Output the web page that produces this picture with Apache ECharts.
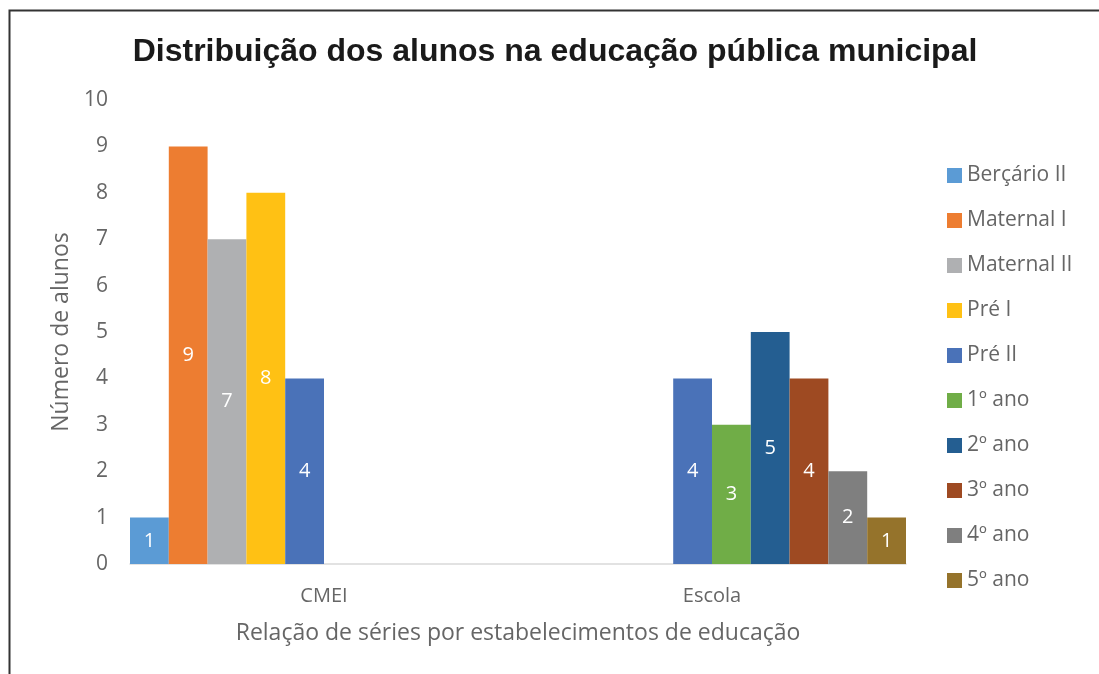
<!DOCTYPE html>
<html>
<head>
<meta charset="utf-8">
<script src="https://cdn.jsdelivr.net/npm/echarts@6/dist/echarts.min.js"></script>
<style>
html,body{margin:0;padding:0;background:#fff;}
#c{width:1099px;height:674px;}
</style>
</head>
<body>
<div id="c"></div>
<script>
const categories = ['CMEI', 'Escola'];
const seriesNames = ['Berçário II', 'Maternal I', 'Maternal II', 'Pré I', 'Pré II', '1º ano', '2º ano', '3º ano', '4º ano', '5º ano'];
const cmeiValues = [1, 9, 7, 8, 4, null, null, null, null, null];
const escolaValues = [null, null, null, null, 4, 3, 5, 4, 2, 1];
const colors = ['#5B9BD5', '#ED7D31', '#AFB0B2', '#FFC114', '#4A72B8', '#70AD47', '#245E91', '#9E4A22', '#7F7F7F', '#95732B'];
const yTicks = [0, 1, 2, 3, 4, 5, 6, 7, 8, 9, 10];

const FONT = '"Open Sans", sans-serif';
const chart = echarts.init(document.getElementById('c'), null, {renderer: 'canvas'});

const series = seriesNames.map((name, i) => ({
  name: name,
  type: 'bar',
  data: [cmeiValues[i], escolaValues[i]],
  barGap: '0%',
  barCategoryGap: '0%',
  itemStyle: {color: colors[i]},
  label: {
    show: true,
    position: 'inside',
    color: '#ffffff',
    fontFamily: FONT,
    fontSize: 20
  }
}));

chart.setOption({
  animation: false,
  backgroundColor: '#ffffff',
  title: {
    text: 'Distribuição dos alunos na educação pública municipal',
    left: 550,
    textAlign: 'center',
    top: 31,
    textStyle: {
      fontFamily: '"Liberation Sans", Arial, sans-serif',
      fontWeight: 'bold',
      fontSize: 32,
      color: '#1a1a1a'
    }
  },
  legend: {
    orient: 'vertical',
    left: 942,
    top: 160,
    itemWidth: 15,
    itemHeight: 15,
    itemGap: 24,
    icon: 'rect',
    textStyle: {fontFamily: FONT, fontSize: 21, color: '#666666'},
    data: seriesNames
  },
  grid: {left: 130, right: 193, top: 100, bottom: 110},
  xAxis: {
    type: 'category',
    data: categories,
    name: 'Relação de séries por estabelecimentos de educação',
    nameLocation: 'middle',
    nameGap: 58,
    nameTextStyle: {fontFamily: FONT, fontSize: 23, color: '#666666'},
    axisLine: {show: true, lineStyle: {color: '#d9d9d9', width: 1.5}},
    axisTick: {show: false},
    axisLabel: {fontFamily: FONT, fontSize: 20, color: '#666666', margin: 22}
  },
  yAxis: {
    type: 'value',
    min: yTicks[0],
    max: yTicks[yTicks.length - 1],
    interval: 1,
    name: 'Número de alunos',
    nameLocation: 'middle',
    nameGap: 56,
    nameRotate: 90,
    nameTextStyle: {fontFamily: FONT, fontSize: 23, color: '#666666'},
    axisLine: {show: false},
    axisTick: {show: false},
    splitLine: {show: false},
    axisLabel: {fontFamily: FONT, fontSize: 21, color: '#666666', margin: 22}
  },
  graphic: [{
    type: 'rect',
    shape: {x: 9.5, y: 10.5, width: 1200, height: 700},
    style: {fill: 'none', stroke: '#333333', lineWidth: 2},
    silent: true
  }],
  series: series
});
</script>
</body>
</html>
